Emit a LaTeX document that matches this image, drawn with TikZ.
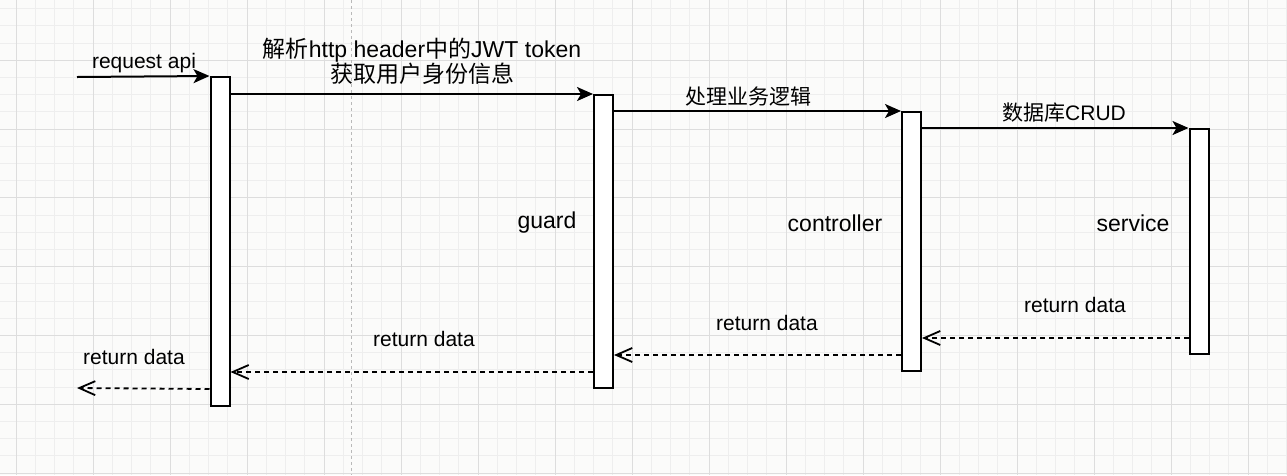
\documentclass[tikz,border=0pt]{standalone}
\usepackage{fontspec}
\setmainfont{Liberation Sans}
\newfontfamily\cjk{Noto Sans CJK SC}
\usetikzlibrary{arrows.meta}
\definecolor{paper}{HTML}{FBFBFA}
\definecolor{gridminor}{HTML}{EEEEEE}
\definecolor{gridmajor}{HTML}{DDDDDD}

\begin{document}
\begin{tikzpicture}[x=1pt, y=-1pt,
	lifebox/.style = {draw, line width=2pt, fill=white, minimum width=19pt, inner sep=0pt},
	call/.style = {line width=2pt, -{Stealth[length=16pt,width=14pt,inset=4pt]}},
	ret/.style = {line width=1.8pt, dash pattern=on 5pt off 4pt, -{Straight Barb[length=16pt,width=14pt]}},
	lbl/.style = {font=\fontsize{21}{25}\selectfont, inner sep=0pt},
	big/.style = {font=\fontsize{23}{25}\selectfont, inner sep=0pt, align=center}]

	\useasboundingbox (0,0) rectangle (1287,475);
	\fill [paper] (0,0) rectangle (1287,475);

	% grid
	\foreach \i in {0,...,67} \draw [gridminor, line width=0.8pt] ({-3.25+19.25*\i},0) -- ++(0,475);
	\foreach \j in {0,...,27} \draw [gridminor, line width=0.8pt] (0,{473-17.2*\j}) -- ++(1287,0);
	\foreach \i in {0,...,16} \draw [gridmajor, line width=1pt] ({16+77*\i},0) -- ++(0,475);
	\foreach \j in {0,...,6} \draw [gridmajor, line width=1pt] (0,{473-68.8*\j}) -- ++(1287,0);
	\draw [gray!55, line width=1pt, dash pattern=on 3pt off 3pt] (351,0) -- (351,475);

	% activation boxes
	\node [lifebox, minimum height=329pt] (api) at (220,241.5) {};
	\node [lifebox, minimum height=293pt] (guard) at (603.5,241.5) {};
	\node [lifebox, minimum height=259pt] (ctrl) at (911.5,241.5) {};
	\node [lifebox, minimum height=225pt] (svc) at (1199,241.5) {};

	\coordinate (client in) at (77,77);
	\coordinate (client out) at (77,388);
	\coordinate (svc ret) at ([yshift=17pt]svc.south west);

	% calls
	\draw [call] (client in) -- (api.north west);
	\draw [call] (api.east |- guard.north) -- (guard.north west);
	\draw [call] (guard.east |- ctrl.north) -- (ctrl.north west);
	\draw [call] (ctrl.east |- svc.north) -- (svc.north west);

	% returns
	\draw [ret] (svc ret) -- (svc ret -| ctrl.east);
	\draw [ret] (svc.south -| ctrl.west) -- (svc.south -| guard.east);
	\draw [ret] (ctrl.south -| guard.west) -- (ctrl.south -| api.east);
	\draw [ret] (guard.south -| api.west) -- (client out);

	% labels
	\node [lbl] (req lbl) at (144,63) {request api};
	\node [big] (jwt lbl) at (422,61.5) {{\cjk 解析}http header{\cjk 中的}JWT token\\{\cjk 获取用户身份信息}};
	\node [lbl] (biz lbl) at (748,97) {\cjk 处理业务逻辑};
	\node [lbl] (crud lbl) at (1064,113) {{\cjk 数据库}CRUD};
	\node [big] (guard lbl) at (547,223) {guard};
	\node [big] (ctrl lbl) at (835,223) {controller};
	\node [big] (svc lbl) at (1133,223) {service};
	\node [lbl] (svc ret lbl) at (1075,305) {return data};
	\node [lbl] (ctrl ret lbl) at (767,323) {return data};
	\node [lbl] (guard ret lbl) at (424,339) {return data};
	\node [lbl] (api ret lbl) at (134,357) {return data};

\end{tikzpicture}
\end{document}
